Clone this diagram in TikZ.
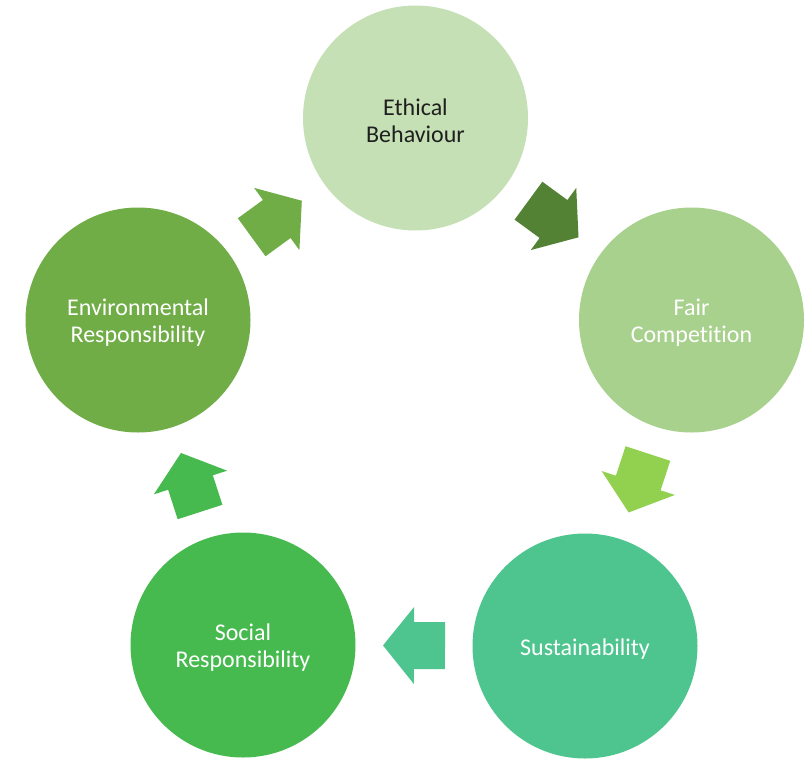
\documentclass[tikz,border=0pt]{standalone}
\usepackage{fontspec}
\setmainfont{Carlito}[Ligatures={NoCommon}]
\usetikzlibrary{calc}

% stage colours
\definecolor{ethicalfill}{HTML}{C5E0B4}
\definecolor{fairfill}{HTML}{A9D18E}
\definecolor{sustainfill}{HTML}{4EC58F}
\definecolor{socialfill}{HTML}{47BA4F}
\definecolor{envfill}{HTML}{70AD47}
% arrow colours
\definecolor{arrowA}{HTML}{548235}
\definecolor{arrowB}{HTML}{92D050}
\definecolor{arrowC}{HTML}{4EC58F}
\definecolor{arrowD}{HTML}{47BA4F}
\definecolor{arrowE}{HTML}{70AD47}
\definecolor{darktext}{HTML}{1F1F1F}

% invisible strut that lowers the label block a little inside its circle
\newcommand\toppad{\rule{0pt}{22pt}}

% block arrow halfway between two stages: #1 name, #2 from, #3 to, #4 colour
\newcommand\cyclearrow[4]{%
  \coordinate (#1) at ($(#2)!0.5!(#3)$);
  \coordinate (#1-tail) at ($(#1)!31pt!(#2)$);
  \coordinate (#1-tip) at ($(#1)!31pt!(#3)$);
  \fill[#4]
    ($(#1-tail)!23.5pt!90:(#3)$) --
    ($(#1)!23.5pt!90:(#3)$) --
    ($(#1)!38.5pt!90:(#3)$) --
    (#1-tip) --
    ($(#1)!38.5pt!-90:(#3)$) --
    ($(#1)!23.5pt!-90:(#3)$) --
    ($(#1-tail)!23.5pt!-90:(#3)$) -- cycle;
}

\tikzset{
  stage/.style={circle, minimum size=225pt, inner sep=0pt, align=center,
    text=white, font=\fontsize{24}{27}\selectfont},
}

\begin{document}
\begin{tikzpicture}[x=1pt, y=-1pt]
  \useasboundingbox[fill=white] (0,0) rectangle (805,758);

  \node[stage, fill=ethicalfill, text=darktext] (eth) at (415.5,118) {\toppad Ethical\\Behaviour};
  \node[stage, fill=fairfill] (fair) at (691.5,320) {\toppad Fair\\Competition};
  \node[stage, fill=sustainfill] (sust) at (585,646) {\toppad Sustainability};
  \node[stage, fill=socialfill] (soc) at (243,645) {\toppad Social\\Responsibility};
  \node[stage, fill=envfill] (env) at (138,320) {\toppad Environmental\\Responsibility};

  \cyclearrow{a1}{eth}{fair}{arrowA}
  \cyclearrow{a2}{fair}{sust}{arrowB}
  \cyclearrow{a3}{sust}{soc}{arrowC}
  \cyclearrow{a4}{soc}{env}{arrowD}
  \cyclearrow{a5}{env}{eth}{arrowE}
\end{tikzpicture}
\end{document}
